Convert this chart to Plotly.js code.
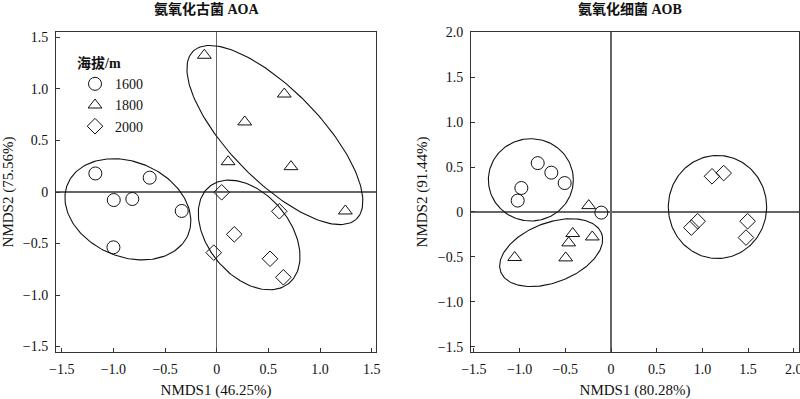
<!DOCTYPE html>
<html>
<head>
<meta charset="utf-8">
<script src="https://cdn.plot.ly/plotly-3.0.1.min.js"></script>
<style>html,body{margin:0;padding:0;background:#fff;}#chart{width:800px;height:399px;}</style>
</head>
<body>
<div id="chart"></div>
<script>
// ---- data ----
const groupNames = ['1600', '1800', '2000'];
const symbols = ['circle-open', 'triangle-up-open', 'diamond-open'];
const sizes = [13, 12, 12];

const aoaX1600 = [-1.175, -0.649, -0.997, -0.817, -0.339, -1.0];
const aoaY1600 = [0.18, 0.139, -0.078, -0.068, -0.184, -0.537];
const aoaX1800 = [-0.12, 0.654, 0.271, 0.110, 0.719, 1.245];
const aoaY1800 = [1.327, 0.951, 0.68, 0.294, 0.246, -0.184];
const aoaX2000 = [0.048, 0.606, 0.170, -0.029, 0.516, 0.645];
const aoaY2000 = [-0.003, -0.187, -0.411, -0.589, -0.648, -0.828];

const aobX1600 = [-0.802, -0.653, -0.507, -0.981, -1.021, -0.106];
const aobY1600 = [0.544, 0.438, 0.322, 0.267, 0.127, -0.007];
const aobX1800 = [-0.244, -0.419, -0.205, -0.463, -1.054, -0.496];
const aobY1800 = [0.071, -0.24, -0.278, -0.344, -0.507, -0.511];
const aobX2000 = [1.105, 1.233, 0.948, 0.879, 1.495, 1.477];
const aobY2000 = [0.397, 0.433, -0.103, -0.174, -0.103, -0.285];

// ellipses: [centerX, centerY, semiA, semiB, angleDeg]
const aoaEllipses = [[-0.860, -0.168, 0.633, 0.460, -23.2],
                     [0.563, 0.553, 1.135, 0.439, -45.8],
                     [0.314, -0.417, 0.607, 0.397, -50.6]];
const aobEllipses = [[-0.877, 0.358, 0.465, 0.458, 0],
                     [-0.655, -0.453, 0.592, 0.331, 21.7],
                     [1.165, 0.056, 0.538, 0.574, 0]];

const aoaTickVals = [-1.5, -1.0, -0.5, 0, 0.5, 1.0, 1.5];
const aoaTickText = ['\u22121.5', '\u22121.0', '\u22120.5', '0', '0.5', '1.0', '1.5'];
const aobXTickVals = [-1.5, -1.0, -0.5, 0, 0.5, 1.0, 1.5, 2.0];
const aobXTickText = ['\u22121.5', '\u22121.0', '\u22120.5', '0', '0.5', '1.0', '1.5', '2.0'];
const aobYTickVals = [-1.5, -1.0, -0.5, 0, 0.5, 1.0, 1.5, 2.0];
const aobYTickText = ['\u22121.5', '\u22121.0', '\u22120.5', '0', '0.5', '1.0', '1.5', '2.0'];

// ---- build ----
const FONT = 'Liberation Serif, Times New Roman, serif';
const CJK = 'Liberation Serif, Noto Sans CJK SC, serif';

function ellipsePath(e) {
  const [cx, cy, a, b, ang] = e;
  const t = ang * Math.PI / 180;
  const xs = [], ys = [];
  for (let i = 0; i <= 180; i++) {
    const p = 2 * Math.PI * i / 180;
    const u = a * Math.cos(p), v = b * Math.sin(p);
    xs.push(cx + u * Math.cos(t) - v * Math.sin(t));
    ys.push(cy + u * Math.sin(t) + v * Math.cos(t));
  }
  return {xs, ys};
}

const traces = [];
const aoaSets = [[aoaX1600, aoaY1600], [aoaX1800, aoaY1800], [aoaX2000, aoaY2000]];
const aobSets = [[aobX1600, aobY1600], [aobX1800, aobY1800], [aobX2000, aobY2000]];

aoaEllipses.forEach(e => {
  const p = ellipsePath(e);
  traces.push({x: p.xs, y: p.ys, xaxis: 'x', yaxis: 'y', mode: 'lines', type: 'scatter',
    line: {color: '#111', width: 1.1}, showlegend: false, hoverinfo: 'skip'});
});
aobEllipses.forEach(e => {
  const p = ellipsePath(e);
  traces.push({x: p.xs, y: p.ys, xaxis: 'x2', yaxis: 'y2', mode: 'lines', type: 'scatter',
    line: {color: '#111', width: 1.1}, showlegend: false, hoverinfo: 'skip'});
});
aoaSets.forEach((s, i) => {
  traces.push({x: s[0], y: s[1], xaxis: 'x', yaxis: 'y', mode: 'markers', type: 'scatter',
    name: groupNames[i],
    marker: {symbol: symbols[i], size: sizes[i], color: '#111', line: {color: '#111', width: 1}}});
});
aobSets.forEach((s, i) => {
  traces.push({x: s[0], y: s[1], xaxis: 'x2', yaxis: 'y2', mode: 'markers', type: 'scatter',
    name: groupNames[i], showlegend: false,
    marker: {symbol: symbols[i], size: sizes[i], color: '#111', line: {color: '#111', width: 1}}});
});

const axBase = {
  showline: true, mirror: true, linecolor: '#333', linewidth: 1,
  showgrid: false, zeroline: true, zerolinecolor: '#666', zerolinewidth: 1.3,
  ticks: 'inside', ticklen: 4, tickcolor: '#333', tickmode: 'array',
  ticklabelstandoff: 4, ticklabeloverflow: 'allow',
  tickfont: {family: FONT, size: 14, color: '#111'}
};

const layout = {
  width: 800, height: 399,
  margin: {l: 0, r: 0, t: 0, b: 0, autoexpand: false},
  paper_bgcolor: '#fff', plot_bgcolor: '#fff',
  showlegend: true,
  legend: {
    x: 75 / 800, y: 1 - 50 / 399, xanchor: 'left', yanchor: 'top',
    bgcolor: 'rgba(0,0,0,0)', borderwidth: 0,
    font: {family: FONT, size: 14, color: '#111'},
    title: {text: '海拔/m', font: {family: CJK, size: 14, color: '#111', weight: 'bold'}, side: 'top'},
    itemwidth: 30, tracegroupgap: 0
  },
  xaxis: Object.assign({}, axBase, {
    domain: [56 / 800, 376 / 800], range: [-1.556, 1.542], anchor: 'y',
    tickvals: aoaTickVals, ticktext: aoaTickText,
    title: {text: 'NMDS1 (46.25%)', font: {family: FONT, size: 15, color: '#111'}, standoff: 10}
  }),
  yaxis: Object.assign({}, axBase, {
    domain: [47 / 399, 367 / 399], range: [-1.553, 1.553], anchor: 'x',
    tickvals: aoaTickVals, ticktext: aoaTickText,
    title: {text: 'NMDS2 (75.56%)', font: {family: FONT, size: 15, color: '#111'}, standoff: 6}
  }),
  xaxis2: Object.assign({}, axBase, {
    domain: [471 / 800, 799 / 800], range: [-1.532, 2.057], anchor: 'y2',
    tickvals: aobXTickVals, ticktext: aobXTickText,
    title: {text: 'NMDS1 (80.28%)', font: {family: FONT, size: 15, color: '#111'}, standoff: 10}
  }),
  yaxis2: Object.assign({}, axBase, {
    domain: [47 / 399, 367 / 399], range: [-1.559, 2.004], anchor: 'x2',
    tickvals: aobYTickVals, ticktext: aobYTickText,
    title: {text: 'NMDS2 (91.44%)', font: {family: FONT, size: 15, color: '#111'}, standoff: 6}
  }),
  annotations: [
    {text: '氨氧化古菌 AOA', xref: 'paper', yref: 'paper', x: 207 / 800, y: 1 - 9 / 399,
     xanchor: 'center', yanchor: 'middle', showarrow: false,
     font: {family: CJK, size: 14, color: '#111', weight: 'bold'}},
    {text: '氨氧化细菌 AOB', xref: 'paper', yref: 'paper', x: 630 / 800, y: 1 - 9 / 399,
     xanchor: 'center', yanchor: 'middle', showarrow: false,
     font: {family: CJK, size: 14, color: '#111', weight: 'bold'}}
  ]
};

Plotly.newPlot('chart', traces, layout, {displayModeBar: false, staticPlot: true});
</script>
</body>
</html>
